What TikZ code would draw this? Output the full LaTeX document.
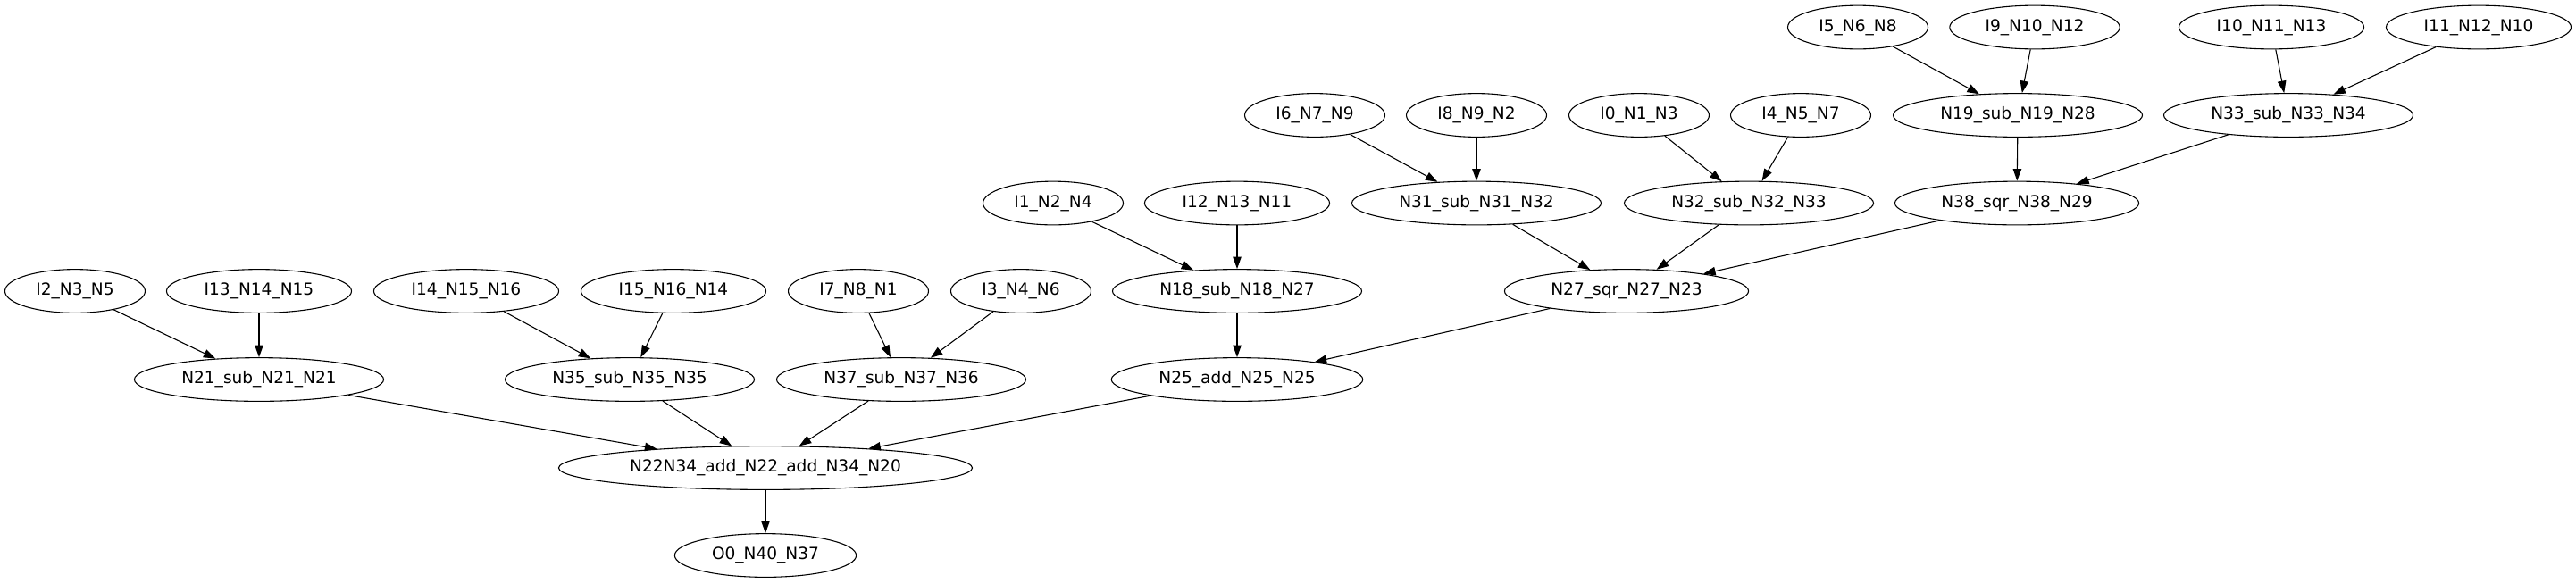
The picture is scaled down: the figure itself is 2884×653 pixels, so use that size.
\documentclass[tikz,border=0pt]{standalone}
\usepackage{fontspec}
\setmainfont{DejaVu Sans}
\usetikzlibrary{shapes.geometric,arrows.meta}

\begin{document}
\begin{tikzpicture}[x=0.7385pt,y=-0.7385pt,
    op/.style={draw,ellipse,line width=0.8pt,inner xsep=8.8pt,inner ysep=4pt,
               minimum height=36pt,font=\fontsize{13.7}{16}\selectfont},
    edge/.style={line width=0.8pt,-{Triangle[length=10pt,width=7pt]}}]
    \useasboundingbox (0,0) rectangle (2884,653); % page size

    % inputs, top rank
    \node[op] (i5)  at (2080,30.5) {I5\_N6\_N8};
    \node[op] (i9)  at (2278,30.5) {I9\_N10\_N12};
    \node[op] (i10) at (2543,30.5) {I10\_N11\_N13};
    \node[op] (i11) at (2775,30.5) {I11\_N12\_N10};

    \node[op] (i6)  at (1472,129) {I6\_N7\_N9};
    \node[op] (i8)  at (1653,129) {I8\_N9\_N2};
    \node[op] (i0)  at (1835,129) {I0\_N1\_N3};
    \node[op] (i4)  at (2016,129) {I4\_N5\_N7};
    \node[op] (n19) at (2259,129) {N19\_sub\_N19\_N28};
    \node[op] (n33) at (2562,129) {N33\_sub\_N33\_N34};

    \node[op] (i1)  at (1179,227.5) {I1\_N2\_N4};
    \node[op] (i12) at (1385,227.5) {I12\_N13\_N11};
    \node[op] (n31) at (1653,227.5) {N31\_sub\_N31\_N32};
    \node[op] (n32) at (1958,227.5) {N32\_sub\_N32\_N33};
    \node[op] (n38) at (2258,227.5) {N38\_sqr\_N38\_N29};

    \node[op] (i2)  at (84,326)   {I2\_N3\_N5};
    \node[op] (i13) at (290,326)  {I13\_N14\_N15};
    \node[op] (i14) at (522,326)  {I14\_N15\_N16};
    \node[op] (i15) at (754,326)  {I15\_N16\_N14};
    \node[op] (i7)  at (961,326)  {I7\_N8\_N1};
    \node[op] (i3)  at (1143,326) {I3\_N4\_N6};
    \node[op] (n18) at (1385,326) {N18\_sub\_N18\_N27};
    \node[op] (n27) at (1821,326) {N27\_sqr\_N27\_N23};

    \node[op] (n21) at (290,425)  {N21\_sub\_N21\_N21};
    \node[op] (n35) at (705,425)  {N35\_sub\_N35\_N35};
    \node[op] (n37) at (1009,425) {N37\_sub\_N37\_N36};
    \node[op] (n25) at (1385,425) {N25\_add\_N25\_N25};

    % sum and output
    \node[op] (n22) at (857,524) {N22N34\_add\_N22\_add\_N34\_N20};
    \node[op] (o0)  at (857,622) {O0\_N40\_N37};

    \foreach \a/\b in {i5/n19,i9/n19,i10/n33,i11/n33,
                       i6/n31,i8/n31,i0/n32,i4/n32,n19/n38,n33/n38,
                       i1/n18,i12/n18,n31/n27,n32/n27,n38/n27,
                       i2/n21,i13/n21,i14/n35,i15/n35,i7/n37,i3/n37,n18/n25,n27/n25,
                       n21/n22,n35/n22,n37/n22,n25/n22,n22/o0}
        \draw[edge] (\a) -- (\b);
\end{tikzpicture}
\end{document}
